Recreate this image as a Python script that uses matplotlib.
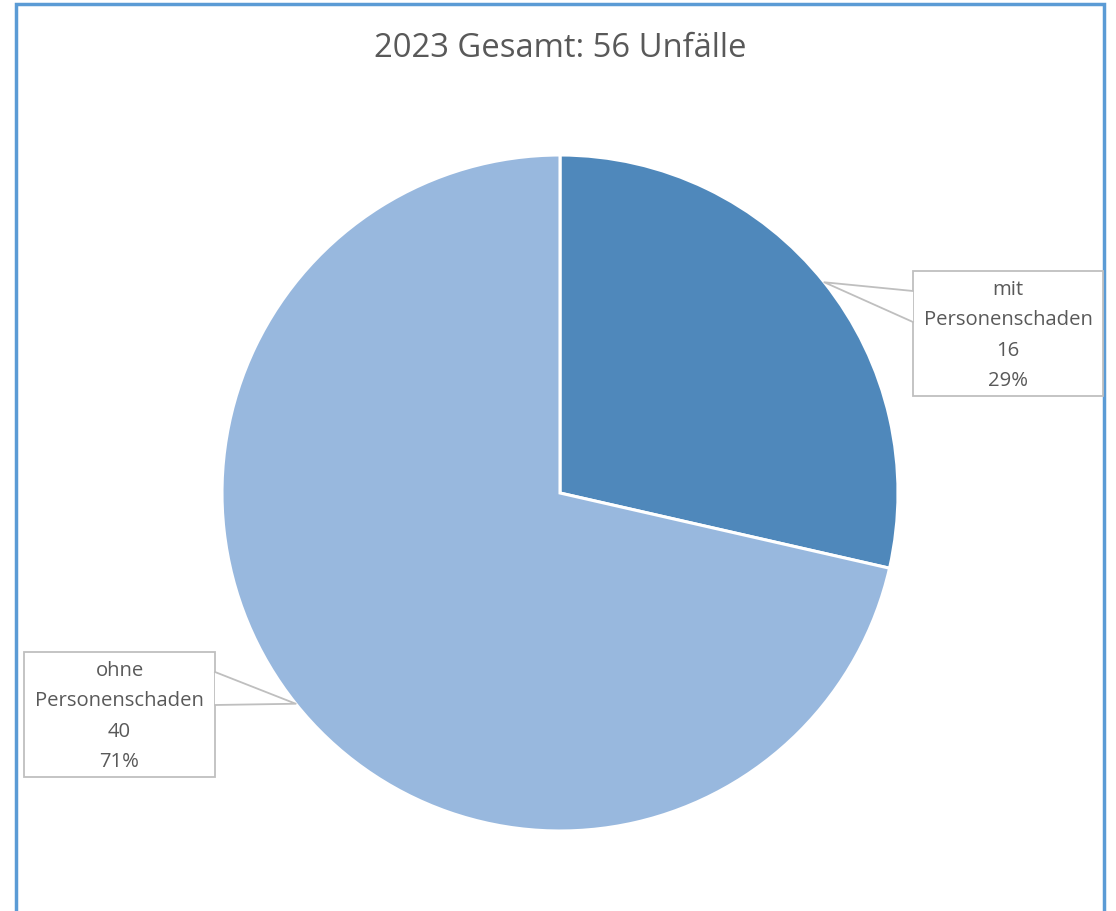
import numpy as np
import matplotlib.pyplot as plt
from matplotlib.patches import Rectangle, Polygon

plt.rcParams['font.family'] = ['Open Sans', 'DejaVu Sans']

title = "2023 Gesamt: 56 Unfälle"
categories = ["mit\nPersonenschaden", "ohne\nPersonenschaden"]
values = [16, 40]
percents = ["29%", "71%"]
colors = ["#4F88BB", "#98B8DE"]

W, H = 1116, 912
fig = plt.figure(figsize=(W / 100, H / 100), dpi=100)
ax = fig.add_axes([0, 0, 1, 1])

# outer frame (bottom runs off the image)
ax.plot([16, 16, 1104, 1104], [-10, H - 5, H - 5, -10], color="#5B9BD5", lw=2.5,
        solid_joinstyle="miter")

cx, cy, r = 560, H - 494, 338
wedges, _ = ax.pie(values, colors=colors, startangle=90, counterclock=False,
                   center=(cx, cy), radius=r, frame=True,
                   wedgeprops=dict(edgecolor="white", linewidth=2.2))
ax.set_xlim(0, W)
ax.set_ylim(0, H)
ax.set_aspect("equal")
ax.axis("off")

ax.text(cx, H - 48, title, ha="center", va="center", fontsize=23.6, color="#595959")

# label boxes: (x0, y0 top, x1, y1 bottom) in pixels, and notch position on the edge
boxes = [
    dict(box=(913, 272, 1103, 397), side="left", notch=(292, 323)),
    dict(box=(24, 653, 215, 778), side="right", notch=(673, 706)),
]

edge = "#BFBFBF"
for w, cat, v, p, b in zip(wedges, categories, values, percents, boxes):
    ang = np.deg2rad((w.theta1 + w.theta2) / 2)
    ax_pt = (cx + r * np.cos(ang), cy + r * np.sin(ang))
    x0, y0, x1, y1 = b["box"]
    ax.add_patch(Rectangle((x0, H - y1), x1 - x0, y1 - y0, facecolor="white",
                           edgecolor=edge, lw=1.3, zorder=3))
    ex = x0 if b["side"] == "left" else x1
    n0, n1 = b["notch"]
    ax.add_patch(Polygon([(ex, H - n0), ax_pt, (ex, H - n1)], closed=True,
                         facecolor="white", edgecolor="none", zorder=4))
    ax.plot([ex, ax_pt[0], ex], [H - n0, ax_pt[1], H - n1], color=edge, lw=1.3,
            zorder=5)
    ax.text((x0 + x1) / 2, H - (y0 + y1) / 2 - 1, f"{cat}\n{v}\n{p}", ha="center",
            va="center", fontsize=14.6, color="#595959", linespacing=1.68, zorder=6)

fig.savefig("out.png", dpi=100)
